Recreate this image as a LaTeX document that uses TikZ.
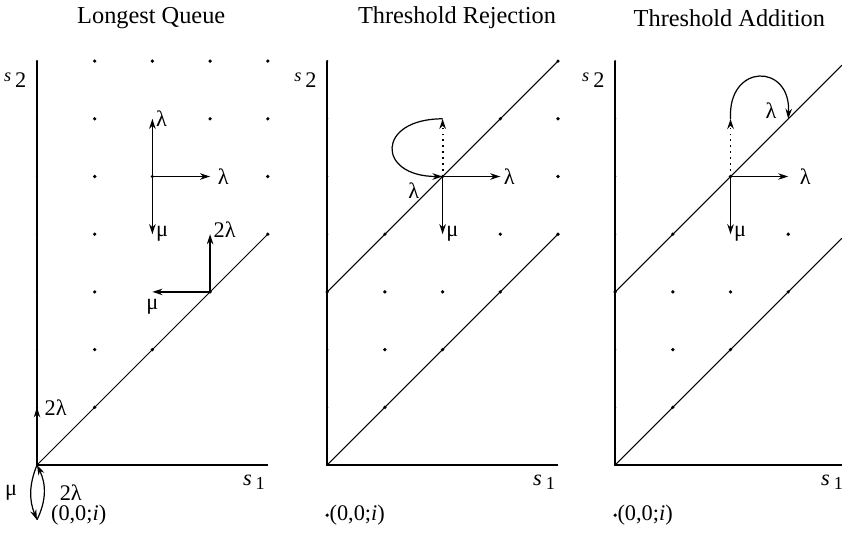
\documentclass[tikz,border=0pt]{standalone}
\usepackage{fontspec}
\setmainfont{Liberation Serif}
\usetikzlibrary{arrows.meta}
\newcommand{\sone}{\textit{s}\kern2pt\raisebox{-0.4ex}{\small 1}}
\newcommand{\stwo}{\raisebox{0.6ex}{\small\textit{s}}\kern2pt 2}
\tikzset{
  axis/.style={line width=0.75pt},
  diag/.style={line width=0.5pt},
  trans/.style={->,line width=0.6pt},
  jump/.style={->,line width=0.9pt,dotted},
  lab/.style={inner sep=1.5pt},
  title/.style={font=\fontsize{12}{14}\selectfont},
}
\begin{document}
\begin{tikzpicture}[>={Stealth[length=5pt,width=3.2pt]},font=\fontsize{11}{13}\selectfont]
  \useasboundingbox (-0.641,-1.213) rectangle (13.952,8.059);
  % Longest Queue
  \node[title] (Ltitle) at (1.98,7.75) {Longest Queue};
  \draw[axis] (0,7) -- (0,0) -- (4,0);
  \draw[diag] (0,0) -- (4,4);
  \foreach \y in {1,...,7} \fill (0,\y) circle (0.6pt);
  \foreach \x/\y in {1/7,2/7,3/7,4/7,1/6,3/6,4/6,1/5,2/5,4/5,1/4,4/4,1/3,3/3,1/2,2/2,1/1}
    \fill (\x,\y) circle (0.9pt);
  \node[anchor=east] (Lsy) at (-0.06,6.67) {\stwo};
  \node (Lsx) at (3.76,-0.3) {\sone};
  \coordinate (Lo) at (0,0);
  \coordinate (Lu) at (0,1);
  \coordinate (Lst) at (0,-0.95);
  \coordinate (Lc) at (2,5);
  \coordinate (Ln) at (2,6);
  \coordinate (Le) at (3,5);
  \coordinate (Ld) at (2,4);
  \coordinate (Lq) at (3,3);
  \coordinate (Lqn) at (3,4);
  \coordinate (Lqw) at (2,3);
  \draw[trans] (Lc) -- (Ln) node[right,lab] (La) {λ};
  \draw[trans] (Lc) -- (Le) node[right=2pt,lab] (Lb) {λ};
  \draw[trans] (Lc) -- (Ld) node[right,lab] (Lm) {μ};
  \draw[trans] (Lq) -- (Lqn) node[right,lab,yshift=2pt] (Lf) {2λ};
  \draw[trans] (Lq) -- (Lqw) node[below=2pt,lab] (Lg) {μ};
  \draw[trans] (Lo) -- (Lu) node[right=2pt,lab] (Lh) {2λ};
  \draw[trans] (Lo) to[bend right=22] node[left=5pt,lab] (Lk) {μ} (Lst);
  \draw[trans] (Lst) to[bend right=26] node[right=6pt,lab] (Ll) {2λ} (Lo);
  \node[anchor=west] (Llab) at (0.12,-0.87) {(0,0;\textit{i})};
  % Threshold Rejection
  \begin{scope}[xshift=5.03cm]
    \node[title] (Rtitle) at (2.25,7.75) {Threshold Rejection};
    \draw[axis] (0,7) -- (0,0) -- (4,0);
    \draw[diag] (0,0) -- (4,4);
    \draw[diag] (0,3) -- (4,7);
    \foreach \y in {1,...,7} \fill (0,\y) circle (0.6pt);
    \foreach \x/\y in {4/7,3/6,4/6,2/5,4/5,1/4,3/4,4/4,0/3,1/3,2/3,3/3,1/2,2/2,1/1}
      \fill (\x,\y) circle (0.9pt);
    \node[anchor=east] (Rsy) at (-0.06,6.67) {\stwo};
    \node (Rsx) at (3.76,-0.3) {\sone};
    \coordinate (Rc) at (2,5);
    \coordinate (Rn) at (2,6);
    \coordinate (Re) at (3,5);
    \coordinate (Rd) at (2,4);
    \draw[trans] (Rc) -- (Re) node[right,lab] (Ra) {λ};
    \draw[trans] (Rc) -- (Rd) node[right,lab] (Rm) {μ};
    \draw[jump] (Rc) -- (Rn);
    \draw[trans] (Rn) .. controls (0.85,6) and (0.85,5) .. (Rc);
    \node[lab] (Rb) at (1.5,4.75) {λ};
    \fill (0,-0.87) circle (0.9pt) node[right,inner sep=1pt] (Rlab) {(0,0;\textit{i})};
  \end{scope}
  % Threshold Addition
  \begin{scope}[xshift=10.02cm]
    \node[title] (Atitle) at (1.98,7.75) {Threshold Addition};
    \draw[axis] (0,7) -- (0,0) -- (3.93,0);
    \draw[diag] (0,0) -- (3.93,3.93);
    \draw[diag] (0,3) -- (3.93,6.93);
    \foreach \y in {1,...,7} \fill (0,\y) circle (0.6pt);
    \foreach \x/\y in {2/5,1/4,3/4,0/3,1/3,2/3,3/3,1/2,2/2,1/1}
      \fill (\x,\y) circle (0.9pt);
    \node[anchor=east] (Asy) at (-0.06,6.67) {\stwo};
    \node (Asx) at (3.76,-0.3) {\sone};
    \coordinate (Ac) at (2,5);
    \coordinate (An) at (2,6);
    \coordinate (Ae) at (3,5);
    \coordinate (Ad) at (2,4);
    \coordinate (Aj) at (3,6);
    \draw[trans] (Ac) -- (Ae) node[right=4pt,lab] (Aa) {λ};
    \draw[trans] (Ac) -- (Ad) node[right,lab] (Am) {μ};
    \draw[jump] (Ac) -- (An);
    \draw[trans] (An) .. controls (1.95,6.97) and (3.05,6.97) .. (Aj)
      node[left=4pt,lab,yshift=4pt] (Ab) {λ};
    \fill (0,-0.87) circle (0.9pt) node[right,inner sep=1pt] (Alab) {(0,0;\textit{i})};
  \end{scope}
\end{tikzpicture}
\end{document}
